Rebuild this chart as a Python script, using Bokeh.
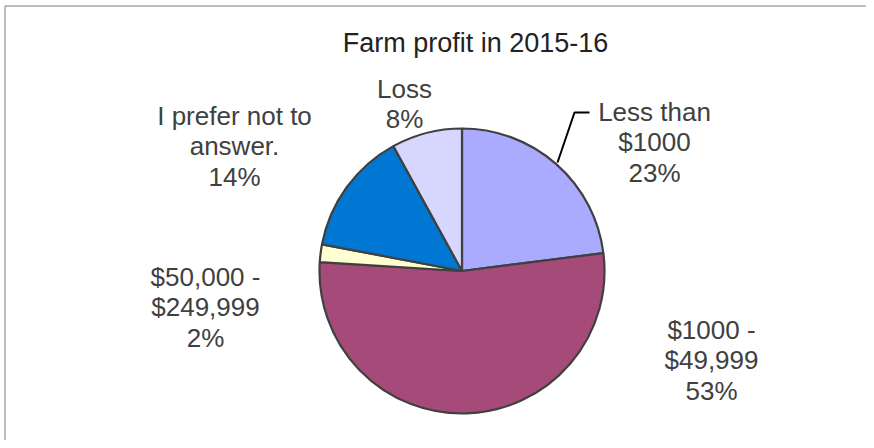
import numpy as np
from bokeh.plotting import figure
from bokeh.models import Range1d
from bokeh.core.properties import value
from bokeh.embed import file_html
from bokeh.resources import INLINE

# ---- data ----
title = "Farm profit in 2015-16"
categories = [["Less than", "$1000"],
              ["$1000 -", "$49,999"],
              ["$50,000 -", "$249,999"],
              ["I prefer not to", "answer."],
              ["Loss"]]
percents = [23, 53, 2, 14, 8]
colors = ["#AAAAFF", "#A64B79", "#FFFFD2", "#0077D2", "#D6D6FF"]

# ---- layout (screen pixel coordinates) ----
W, H = 866, 440
X0, Y0 = 1, 1            # observed top-left of figure in the screenshot
def sy(y):
    return (Y0 + H) - y  # screen y -> data y

CX, CY, R = 462.5, 271.5, 142.5
label_pos = [(655, 112), (712, 330), (206, 277), (235, 116), (405, 89)]
LINE = 30.5
FONT = "Liberation Sans"

p = figure(width=W, height=H, output_backend="svg", toolbar_location=None,
           x_range=Range1d(X0, X0 + W), y_range=Range1d(0, H),
           min_border=0, outline_line_color=None)
p.axis.visible = False
p.grid.visible = False
p.background_fill_color = "white"
p.border_fill_color = "white"

# border (left and top edges of the chart area)
p.line(x=[5.5, 5.5, X0 + W + 5], y=[sy(460), sy(6.5), sy(6.5)],
       line_color="#7F7F7F", line_width=1)

# pie
frac = np.array(percents, dtype=float) / sum(percents)
cum = np.cumsum(frac)
before = cum - frac
start = np.pi / 2 - 2 * np.pi * cum
end = np.pi / 2 - 2 * np.pi * before
p.wedge(x=CX, y=sy(CY), radius=R, start_angle=start, end_angle=end,
        fill_color=colors, line_color="#404040", line_width=2.2)

# leader line for first slice
p.line(x=[590, 575, 558], y=[sy(113), sy(113), sy(163)], line_color="black", line_width=2)

# title
p.text(x=[476], y=[sy(43)], text=[title], text_align="center", text_baseline="alphabetic",
       text_font=value(FONT), text_font_size="27px", text_color="#222222")

# labels
xs, ys, ts = [], [], []
for cat, pct, (lx, ly) in zip(categories, percents, label_pos):
    lines = cat + [f"{pct}%"]
    for k, t in enumerate(lines):
        xs.append(lx)
        ys.append(sy(ly + k * LINE))
        ts.append(t)
p.text(x=xs, y=ys, text=ts, text_align="center", text_baseline="alphabetic",
       text_font=value(FONT), text_font_size="26px", text_color="#404040")

open("out.html", "w").write(file_html(p, INLINE))
